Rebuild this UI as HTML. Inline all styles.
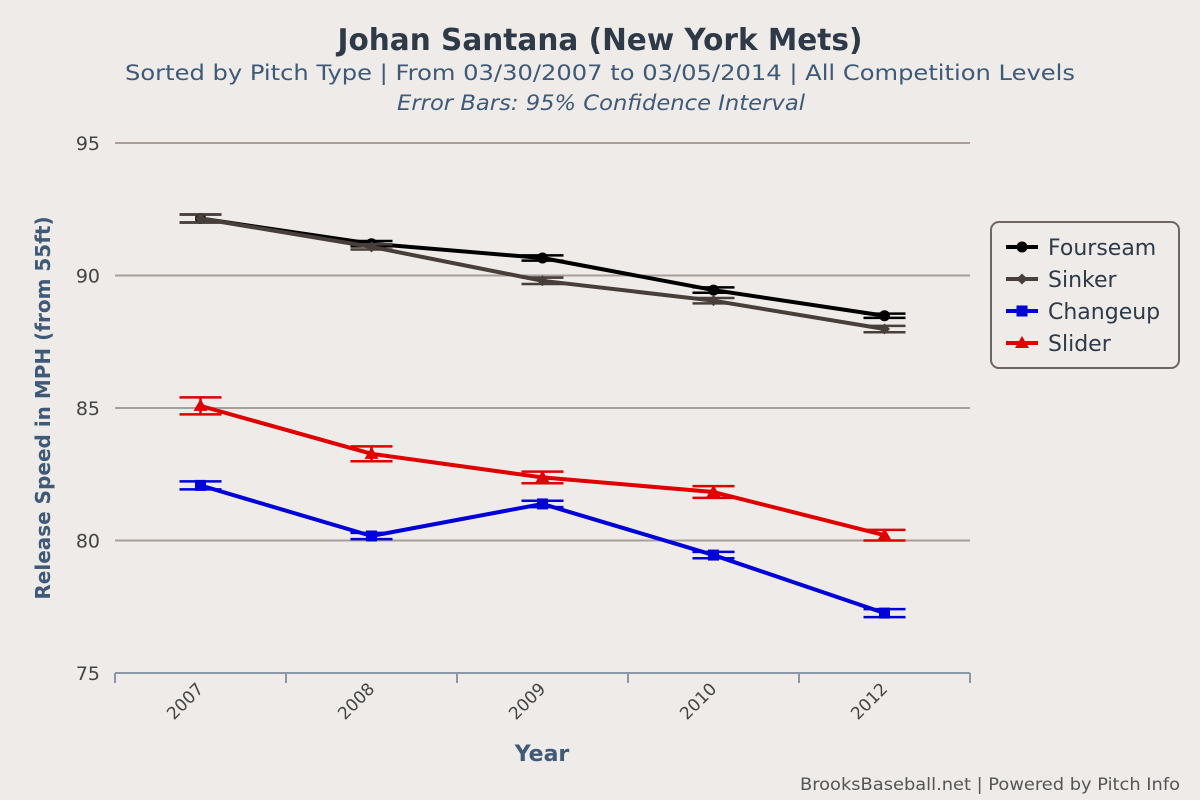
<!DOCTYPE html>
<html><head><meta charset="utf-8"><style>
body{margin:0;background:#eeebe8;}
svg{display:block;font-family:"DejaVu Sans","Liberation Sans",sans-serif;}
</style></head><body>
<svg id="chart" width="1200" height="800">
<rect width="1200" height="800" fill="#eeebe8"/>
<text x="600" y="50" text-anchor="middle" font-size="30" font-weight="bold" fill="#2e3a48" textLength="525" lengthAdjust="spacingAndGlyphs">Johan Santana (New York Mets)</text>
<text x="600" y="80" text-anchor="middle" font-size="21" fill="#3e5a78" textLength="950" lengthAdjust="spacingAndGlyphs">Sorted by Pitch Type | From 03/30/2007 to 03/05/2014 | All Competition Levels</text>
<text x="601" y="110" text-anchor="middle" font-size="21" font-style="italic" fill="#3e5a78" textLength="408" lengthAdjust="spacingAndGlyphs">Error Bars: 95% Confidence Interval</text>
<g id="grid"></g><g id="axes"></g><g id="series"></g>
<text transform="translate(50,408) rotate(-90)" text-anchor="middle" font-size="20" font-weight="bold" fill="#3e5a78">Release Speed in MPH (from 55ft)</text>
<text x="542" y="761" text-anchor="middle" font-size="22" font-weight="bold" fill="#3e5a78">Year</text>
<text x="1180" y="790" text-anchor="end" font-size="17" fill="#555" textLength="380" lengthAdjust="spacingAndGlyphs">BrooksBaseball.net | Powered by Pitch Info</text>
<g id="legend">
<rect x="991" y="222" width="188" height="146" rx="8" fill="none" stroke="#6f6662" stroke-width="2"/>
</g>
</svg>
<script>
const categories=["2007","2008","2009","2010","2012"];
const yTicks=[75,80,85,90,95];
const seriesNames=["Fourseam","Sinker","Changeup","Slider"];
const fourseam=[92.15,91.2,90.66,89.45,88.48];
const sinker=[92.15,91.08,89.8,89.05,87.98];
const changeup=[82.08,80.17,81.38,79.45,77.26];
const slider=[85.08,83.27,82.38,81.83,80.2];
const fourseamErr=[0.15,0.1,0.1,0.1,0.08];
const sinkerErr=[0.15,0.1,0.12,0.1,0.12];
const changeupErr=[0.15,0.12,0.12,0.12,0.15];
const sliderErr=[0.32,0.28,0.22,0.22,0.2];
const styles=[{c:"#000",m:"circle"},{c:"#483e3a",m:"diamond"},{c:"#0000d8",m:"square"},{c:"#e00000",m:"triangle"}];
const data=[fourseam,sinker,changeup,slider];
const errs=[fourseamErr,sinkerErr,changeupErr,sliderErr];
const NS="http://www.w3.org/2000/svg";
const x0=115,x1=970,yTop=143,yBot=673;
const band=(x1-x0)/categories.length;
const xs=i=>x0+band*(i+0.5);
const ys=v=>yBot-(v-75)/(95-75)*(yBot-yTop);
function mk(tag,attrs,parent){const e=document.createElementNS(NS,tag);for(const k in attrs)e.setAttribute(k,attrs[k]);parent.appendChild(e);return e;}
const grid=document.getElementById('grid'),axes=document.getElementById('axes'),ser=document.getElementById('series'),leg=document.getElementById('legend');
yTicks.forEach(t=>{
 if(t>75){const l=mk('line',{x1:x0,x2:x1,y1:ys(t),y2:ys(t),stroke:"#a89f9a","stroke-width":2},grid);
 
 }
 const tx=mk('text',{x:100,y:ys(t)+7,"text-anchor":"end","font-size":19,fill:"#444"},axes);tx.textContent=t;
 
 
});
const ax=mk('line',{x1:x0,x2:x1,y1:yBot,y2:yBot,stroke:"#8a98a8","stroke-width":2},axes);


for(let i=0;i<=categories.length;i++){const t=mk('line',{x1:x0+band*i,x2:x0+band*i,y1:yBot,y2:yBot+10,stroke:"#8a98a8","stroke-width":2},axes);
 
 }
categories.forEach((c,i)=>{const t=mk('text',{x:xs(i)+4,y:690,"text-anchor":"end","font-size":17,fill:"#444",transform:`rotate(-45 ${xs(i)+4} 690)`},axes);t.textContent=c;
 
 });
function marker(kind,x,y,col,g){
 let e;
 if(kind==="circle")e=mk('circle',{cx:x,cy:y,r:5.5,fill:col},g);
 else if(kind==="diamond")e=mk('path',{d:`M${x} ${y-5.5}L${x+5.5} ${y}L${x} ${y+5.5}L${x-5.5} ${y}Z`,fill:col},g);
 else if(kind==="square")e=mk('rect',{x:x-5.5,y:y-5.5,width:11,height:11,fill:col},g);
 else e=mk('path',{d:`M${x} ${y-7}L${x+7} ${y+5}L${x-7} ${y+5}Z`,fill:col},g);
 return e;
}
data.forEach((vals,s)=>{
 const st=styles[s];
 const g=mk('g',{},ser);
 
 
 vals.forEach((v,i)=>{
  const x=xs(i),e=errs[s][i],ya=ys(v+e),yb=ys(v-e);
  const eb=mk('path',{d:`M${x-21} ${ya}H${x+21}M${x} ${ya}V${yb}M${x-21} ${yb}H${x+21}`,stroke:st.c,"stroke-width":2.5,fill:"none"},g);
  
  
 });
 const p=mk('polyline',{points:vals.map((v,i)=>xs(i)+","+ys(v)).join(" "),fill:"none",stroke:st.c,"stroke-width":4,"stroke-linejoin":"round"},g);
 
 
 vals.forEach((v,i)=>{const m=marker(st.m,xs(i),ys(v),st.c,g);
  
  });
 const ly=247+s*32;
 const lg=mk('g',{},leg);
 
 
 mk('line',{x1:1006,x2:1038,y1:ly,y2:ly,stroke:st.c,"stroke-width":4},lg);
 marker(st.m,1022,ly,st.c,lg);
 const t=mk('text',{x:1048,y:ly+8,"font-size":22,fill:"#2e3a48"},lg);t.textContent=seriesNames[s];
});
</script>
</body></html>
